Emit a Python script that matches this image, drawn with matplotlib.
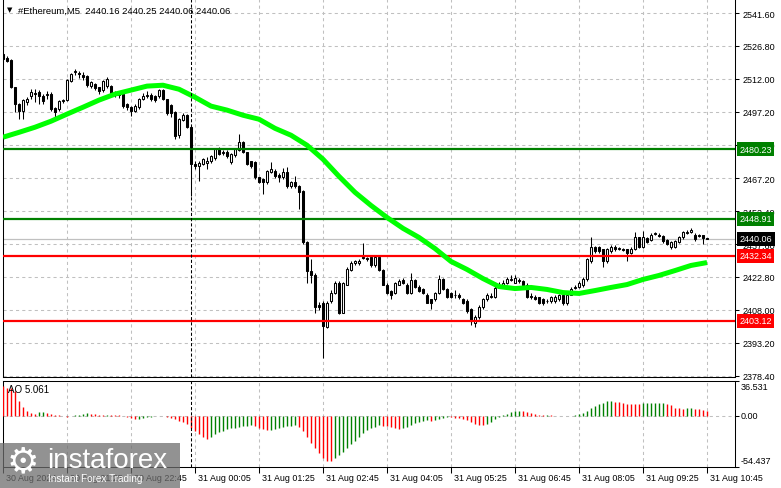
import numpy as np
import matplotlib
matplotlib.use("Agg")
import matplotlib.pyplot as plt
from matplotlib.patches import Rectangle

plt.rcParams['font.family'] = ['Liberation Sans', 'DejaVu Sans']

W, H = 781, 489

# ---- M5 candles (bar 0 = 30 Aug 20:05) ----
opens = [2523.1, 2521.3, 2520.4, 2508.2, 2500.6, 2497.4, 2501.5, 2504.2, 2505.5, 2506.0,
         2504.2, 2504.6, 2505.1, 2498.8, 2498.3, 2501.9, 2502.4, 2511.0, 2515.0, 2514.5,
         2513.6, 2513.2, 2508.7, 2509.6, 2508.2, 2506.9, 2508.7, 2508.7, 2505.5, 2505.1,
         2505.1, 2500.6, 2499.2, 2497.4, 2499.2, 2503.1, 2504.2, 2504.6, 2504.2, 2504.2,
         2506.9, 2502.8, 2500.0, 2497.0, 2486.6, 2493.4, 2495.6, 2490.2, 2473.8, 2472.6,
         2473.5, 2474.3, 2474.8, 2476.2, 2480.3, 2478.5, 2479.0, 2474.4, 2477.6, 2479.8,
         2483.4, 2478.9, 2474.8, 2474.4, 2467.7, 2466.8, 2465.4, 2469.9, 2470.4, 2468.6,
         2467.7, 2469.9, 2463.6, 2465.4, 2463.6, 2461.4, 2438.4, 2425.3, 2423.9, 2410.4,
         2411.3, 2400.5, 2411.8, 2415.8, 2420.3, 2406.8, 2419.4, 2426.1, 2428.9, 2428.9,
         2431.6, 2431.2, 2431.6, 2428.0, 2431.6, 2426.1, 2419.4, 2416.3, 2415.8, 2419.4,
         2421.3, 2419.4, 2415.8, 2421.6, 2418.4, 2417.2, 2414.9, 2412.7, 2412.7, 2415.4,
         2422.1, 2417.6, 2415.4, 2414.5, 2414.9, 2412.7, 2412.2, 2408.2, 2402.3, 2404.6,
         2409.1, 2412.7, 2414.0, 2414.0, 2418.5, 2418.5, 2420.3, 2421.6, 2420.3, 2421.6,
         2420.8, 2419.4, 2414.4, 2414.0, 2413.6, 2412.7, 2412.2, 2411.8, 2411.8, 2412.7,
         2414.5, 2410.9, 2414.9, 2417.8, 2418.5, 2419.0, 2421.7, 2429.8, 2436.1, 2436.1,
         2435.2, 2429.8, 2434.3, 2436.5, 2435.4, 2435.3, 2435.2, 2433.8, 2435.2, 2440.6,
         2436.5, 2440.2, 2439.3, 2442.2, 2441.9, 2441.1, 2439.3, 2436.1, 2436.5, 2438.4,
         2440.6, 2442.7, 2442.9, 2441.9, 2441.5, 2441.5, 2440.16]
highs = [2523.6, 2522.2, 2520.9, 2508.4, 2501.0, 2503.0, 2504.0, 2507.3, 2507.3, 2507.0,
         2505.0, 2506.5, 2506.0, 2499.5, 2502.5, 2503.0, 2512.0, 2514.5, 2516.5, 2515.5,
         2515.0, 2513.5, 2511.0, 2510.0, 2508.5, 2511.5, 2513.0, 2509.0, 2506.5, 2505.5,
         2505.5, 2501.0, 2499.7, 2500.5, 2503.5, 2505.5, 2506.5, 2505.5, 2504.6, 2507.3,
         2507.5, 2503.0, 2500.5, 2497.5, 2494.5, 2496.5, 2496.0, 2490.7, 2474.8, 2475.0,
         2476.5, 2476.6, 2477.8, 2481.0, 2481.5, 2480.0, 2480.0, 2478.5, 2481.0, 2487.0,
         2484.0, 2479.2, 2475.0, 2474.8, 2468.0, 2467.5, 2471.0, 2474.4, 2471.5, 2469.5,
         2472.0, 2472.5, 2466.0, 2468.1, 2464.0, 2461.8, 2439.0, 2430.7, 2424.5, 2411.5,
         2412.0, 2412.0, 2417.0, 2421.0, 2421.0, 2420.5, 2427.5, 2430.0, 2430.5, 2431.0,
         2437.9, 2431.8, 2432.0, 2432.0, 2432.0, 2426.5, 2420.0, 2417.0, 2420.5, 2422.0,
         2422.5, 2420.0, 2424.8, 2422.0, 2419.0, 2418.0, 2415.5, 2413.0, 2416.0, 2423.5,
         2422.5, 2418.0, 2416.0, 2417.0, 2415.5, 2413.5, 2413.0, 2409.0, 2405.5, 2410.0,
         2413.5, 2415.5, 2415.5, 2419.0, 2420.5, 2421.5, 2423.0, 2423.5, 2423.5, 2422.5,
         2421.5, 2420.0, 2415.5, 2414.5, 2414.0, 2413.2, 2413.0, 2414.2, 2414.6, 2415.2,
         2415.0, 2415.4, 2418.2, 2419.0, 2421.2, 2422.8, 2431.5, 2440.6, 2436.6, 2436.8,
         2435.6, 2435.8, 2437.2, 2437.0, 2436.4, 2436.0, 2435.6, 2436.2, 2442.9, 2441.0,
         2443.3, 2440.7, 2442.6, 2443.2, 2442.6, 2441.6, 2439.8, 2438.9, 2439.3, 2441.1,
         2443.4, 2443.8, 2444.7, 2442.4, 2442.2, 2441.9, 2440.25]
lows = [2519.5, 2519.5, 2507.8, 2497.0, 2493.8, 2493.8, 2500.0, 2503.0, 2501.5, 2500.6,
        2500.5, 2503.0, 2497.5, 2493.8, 2497.5, 2501.0, 2502.0, 2510.5, 2513.5, 2512.5,
        2511.5, 2508.5, 2508.0, 2507.0, 2505.1, 2506.0, 2508.0, 2504.5, 2504.0, 2503.5,
        2499.0, 2498.0, 2495.2, 2497.0, 2498.5, 2502.5, 2503.5, 2502.0, 2501.5, 2503.5,
        2502.5, 2495.5, 2495.0, 2484.8, 2485.5, 2493.0, 2489.8, 2459.1, 2471.3, 2465.9,
        2473.0, 2471.3, 2474.0, 2475.5, 2477.5, 2477.5, 2476.5, 2473.5, 2477.0, 2479.5,
        2478.5, 2473.0, 2472.0, 2467.0, 2465.0, 2460.0, 2464.8, 2469.5, 2467.5, 2465.4,
        2467.0, 2463.0, 2463.0, 2463.0, 2453.2, 2437.5, 2420.3, 2420.3, 2406.4, 2408.0,
        2386.5, 2400.0, 2411.0, 2415.0, 2406.0, 2406.5, 2419.0, 2425.5, 2428.4, 2428.4,
        2430.7, 2430.0, 2427.5, 2427.5, 2425.5, 2419.0, 2415.0, 2412.7, 2415.3, 2419.0,
        2419.5, 2415.0, 2415.3, 2418.0, 2416.0, 2415.0, 2411.0, 2408.2, 2412.0, 2415.0,
        2417.0, 2413.5, 2413.5, 2413.5, 2413.0, 2410.5, 2406.5, 2401.4, 2400.5, 2404.0,
        2408.5, 2412.0, 2413.5, 2413.5, 2418.0, 2418.0, 2419.8, 2420.8, 2420.0, 2420.0,
        2419.0, 2413.5, 2413.0, 2412.5, 2410.8, 2410.4, 2410.9, 2411.3, 2411.3, 2412.2,
        2410.4, 2410.4, 2414.5, 2417.2, 2418.0, 2418.5, 2421.2, 2429.3, 2433.8, 2433.6,
        2427.5, 2429.3, 2433.8, 2434.7, 2434.8, 2434.4, 2429.8, 2433.3, 2434.8, 2436.0,
        2436.0, 2437.9, 2438.8, 2441.6, 2440.6, 2438.3, 2437.0, 2435.6, 2436.0, 2437.9,
        2440.1, 2442.1, 2442.4, 2439.2, 2440.6, 2437.5, 2440.06]
closes = [2520.9, 2520.0, 2508.2, 2500.6, 2497.4, 2502.4, 2502.8, 2506.0, 2505.1, 2504.2,
          2502.0, 2505.1, 2498.3, 2497.0, 2501.9, 2502.4, 2511.4, 2514.1, 2515.3, 2514.1,
          2512.8, 2509.1, 2510.5, 2507.8, 2506.4, 2510.9, 2511.8, 2505.1, 2505.1, 2504.6,
          2499.7, 2499.2, 2497.4, 2499.7, 2502.8, 2504.2, 2504.6, 2502.8, 2502.4, 2506.9,
          2502.8, 2496.5, 2496.5, 2486.1, 2493.8, 2495.6, 2490.2, 2473.5, 2472.6, 2474.3,
          2475.8, 2474.8, 2477.1, 2480.3, 2478.0, 2478.9, 2477.1, 2478.0, 2480.3, 2483.4,
          2478.9, 2473.5, 2472.6, 2467.7, 2465.4, 2465.4, 2470.4, 2471.3, 2468.1, 2467.7,
          2469.9, 2463.6, 2465.4, 2463.6, 2460.9, 2438.4, 2425.3, 2423.9, 2409.5, 2409.5,
          2400.9, 2411.3, 2415.8, 2420.0, 2406.8, 2419.9, 2426.6, 2429.3, 2429.8, 2429.8,
          2431.2, 2430.7, 2428.0, 2431.6, 2426.1, 2419.4, 2415.8, 2414.9, 2419.9, 2420.8,
          2420.3, 2415.8, 2421.6, 2418.4, 2416.6, 2415.8, 2411.3, 2411.3, 2415.4, 2422.1,
          2417.6, 2414.0, 2414.0, 2414.9, 2414.0, 2411.3, 2407.3, 2403.2, 2404.6, 2409.1,
          2412.7, 2414.5, 2414.4, 2418.0, 2419.4, 2420.3, 2422.1, 2421.8, 2422.5, 2420.8,
          2419.4, 2414.0, 2413.6, 2413.1, 2411.3, 2411.3, 2411.8, 2413.6, 2414.0, 2414.5,
          2410.9, 2414.9, 2417.6, 2418.1, 2420.3, 2422.1, 2430.7, 2436.1, 2434.3, 2434.3,
          2429.8, 2435.2, 2436.5, 2435.2, 2435.7, 2435.0, 2433.8, 2435.6, 2440.6, 2436.5,
          2440.6, 2438.4, 2441.9, 2442.5, 2441.1, 2438.8, 2437.5, 2438.4, 2438.8, 2440.6,
          2442.9, 2443.0, 2443.8, 2439.7, 2441.1, 2440.2, 2440.06]

# moving average (green line), read every 4th bar
ma_bars = list(range(0, 177, 4))
ma_vals = [2485.7, 2487.9, 2490.2, 2492.9, 2496.1, 2499.2, 2502.4, 2505.1, 2506.9, 2508.7,
           2509.1, 2507.3, 2503.7, 2499.7, 2497.9, 2495.6, 2493.8, 2489.7, 2486.6, 2482.1,
           2475.8, 2468.1, 2460.9, 2455.0, 2449.6, 2444.7, 2440.6, 2435.6, 2429.8, 2426.2,
           2422.1, 2418.5, 2417.6, 2418.1, 2417.2, 2415.8, 2415.4, 2416.7, 2418.1, 2419.4,
           2421.7, 2423.5, 2425.7, 2428.0, 2429.3]

# Awesome Oscillator histogram
ao_vals = [32.0, 30.0, 29.2, 26.0, 15.5, 9.4, 5.0, 3.2, 2.2, 3.5,
           3.9, 2.8, 1.8, 0.9, 0.3, -0.4, -1.2, -0.6, 0.2, 1.0,
           2.0, 2.6, 1.9, 1.2, 0.8, 0.6, 0.7, 0.5, 0.4, 0.2,
           -0.3, -1.0, -2.4, -3.6, -3.2, -2.6, -1.8, -1.0, -0.6, -0.2,
           -0.5, -1.2, -2.6, -4.0, -5.5, -7.0, -9.0, -12.8, -16.5, -20.0,
           -22.8, -24.6, -22.6, -20.2, -18.0, -16.4, -14.8, -13.6, -12.8, -12.0,
           -11.3, -10.8, -10.5, -11.6, -13.2, -14.6, -15.4, -15.0, -14.2, -13.2,
           -12.2, -11.4, -10.8, -10.4, -12.5, -16.8, -22.5, -28.8, -34.6, -40.5,
           -45.0, -48.2, -49.0, -45.6, -42.0, -38.4, -34.2, -30.5, -27.0, -22.8,
           -19.0, -15.8, -13.6, -11.8, -10.0, -10.6, -11.6, -12.6, -13.4, -13.9,
           -13.5, -11.9, -10.1, -8.3, -6.6, -5.6, -4.8, -5.5, -4.6, -3.2,
           -2.2, -1.4, -1.8, -2.2, -2.8, -3.6, -4.6, -6.6, -8.6, -9.8,
           -10.2, -8.8, -6.4, -3.8, -1.4, 0.6, 2.2, 3.8, 5.0, 5.4,
           4.8, 3.6, 2.4, 1.4, 0.8, 0.5, 0.6, 0.3, -0.2, -0.5,
           -0.3, 0.1, -0.1, 0.3, 1.5, 2.9, 4.8, 7.6, 10.2, 12.3,
           14.0, 15.2, 15.8, 15.0, 14.1, 13.4, 12.8, 12.6, 12.3, 12.1,
           13.0, 13.3, 13.6, 13.8, 13.9, 14.0, 12.9, 11.2, 8.6, 7.9,
           7.4, 7.8, 8.1, 7.4, 6.8, 6.1, 5.061]

green_levels = [2480.23, 2448.91]
red_levels = [2432.34, 2403.12]
last_price = 2440.06
price_ticks = [2541.60, 2526.80, 2512.00, 2497.20, 2482.40, 2467.20,
               2452.40, 2437.60, 2422.80, 2408.00, 2393.20, 2378.40]
time_ticks = [0, 16, 32, 48, 64, 80, 96, 112, 128, 144, 160, 176]
time_labels = ["30 Aug 2024", "30 Aug 21:25", "30 Aug 22:45", "31 Aug 00:05",
               "31 Aug 01:25", "31 Aug 02:45", "31 Aug 04:05", "31 Aug 05:25",
               "31 Aug 06:45", "31 Aug 08:05", "31 Aug 09:25", "31 Aug 10:45"]
day_sep = 47
ao_top, ao_bottom = 36.531, -54.437
header = "#Ethereum,M5  2440.16 2440.25 2440.06 2440.06"


def box(l, t, r, b):
    return [l / W, 1 - b / H, (r - l) / W, (b - t) / H]


fig = plt.figure(figsize=(W / 100, H / 100), dpi=100)
ax = fig.add_axes(box(2.5, 0, 735, 378))
ax2 = fig.add_axes(box(2.5, 382, 735, 467.5))

GRID = '#C0C0C0'
dash = (0, (3, 3))

for a in (ax, ax2):
    a.set_xlim(-0.125, 183)
    for s in a.spines.values():
        s.set_linewidth(0.75)
        s.set_color('black')
    a.yaxis.tick_right()
    a.set_xticks(time_ticks)
    a.grid(True, axis='x', color=GRID, linestyle=dash, linewidth=0.75)
    a.set_axisbelow(True)
    a.axvline(day_sep, color='black', linestyle=(0, (3, 2)), linewidth=0.75, zorder=6)

ax.spines['top'].set_visible(False)
ax.set_ylim(2377.8, 2547.9)
ax.set_yticks(price_ticks)
ax.set_yticklabels(['%.2f' % v for v in price_ticks])
ax.grid(True, axis='y', color=GRID, linestyle=dash, linewidth=0.75)
ax.tick_params(axis='y', length=3, width=0.75, pad=2.5, labelsize=6.5)
ax.tick_params(axis='x', length=0, labelbottom=False)

# candles
x = np.arange(len(closes))
o = np.array(opens); c = np.array(closes)
h = np.array(highs); l = np.array(lows)
up = c >= o
ax.vlines(x, l, h, color='black', linewidth=0.75, zorder=2)
body = np.maximum(np.abs(c - o), 0.08)
ax.bar(x, body, bottom=np.minimum(o, c), width=0.55,
       color=np.where(up, 'white', 'black'), edgecolor='black', linewidth=0.75, zorder=3)

# levels
ax.axhline(last_price, color=GRID, linewidth=0.9, zorder=1.8)
for v in green_levels:
    ax.axhline(v, color='#008000', linewidth=1.6, zorder=4)
for v in red_levels:
    ax.axhline(v, color='#FF0000', linewidth=1.6, zorder=4)

ax.plot(ma_bars, ma_vals, color='#00FF00', linewidth=3.6, solid_capstyle='butt', zorder=5)

ytr = ax.get_yaxis_transform()
for v, col in [(green_levels[0], '#008000'), (green_levels[1], '#008000'),
               (last_price, 'black'), (red_levels[0], '#FF0000'), (red_levels[1], '#FF0000')]:
    ax.text(1.0061, v, '%.2f' % v, transform=ytr, ha='left', va='center', fontsize=6.5,
            color='white', clip_on=False, zorder=10,
            bbox=dict(boxstyle='square,pad=0.28', fc=col, ec='none'))

# AO panel
ax2.set_ylim(ao_bottom, 37.0)
ao = np.array(ao_vals)
cols = ['#FF0000'] + ['#008000' if ao[i] > ao[i - 1] else '#FF0000' for i in range(1, len(ao))]
ax2.vlines(x, 0, ao, colors=cols, linewidth=1.0, zorder=3)
ax2.axhline(0, color=GRID, linestyle=dash, linewidth=0.75, zorder=1)
ax2.set_yticks([ao_bottom, 0, ao_top])
ax2.set_yticklabels([])
ax2.tick_params(axis='y', length=3, width=0.75)
ax2.tick_params(axis='x', length=4, width=0.75, direction='out', labelbottom=False)

for frac, txt in [(0.930, '%.3f' % ao_top), (0.591, '0.00'), (0.076, '%.3f' % ao_bottom)]:
    ax2.text((741 - 2.5) / 732.5, frac, txt, transform=ax2.transAxes, ha='left', va='center',
             fontsize=6.5, clip_on=False)
ax2.text(0.0075, 0.906, 'AO 5.061', transform=ax2.transAxes, ha='left', va='center', fontsize=7)

xtr = ax2.get_xaxis_transform()
for t, lab in zip(time_ticks, time_labels):
    ax2.text(t + 0.75, -0.123, lab, transform=xtr, ha='left', va='center', fontsize=6.4,
             clip_on=False)

# header
fig.text(7 / W, 1 - 10 / H, '\u25BC', fontsize=5, family='DejaVu Sans', va='center')
fig.text(18 / W, 1 - 11 / H, header, fontsize=6.8, va='center')

# watermark
fig.add_artist(Rectangle((0, 0), 180 / W, 45 / H, transform=fig.transFigure,
                         facecolor='#6e6e6e', alpha=0.75, edgecolor='none', zorder=20))
fig.text(23 / W, 1 - 462 / H, '\u2699', fontsize=26, family='DejaVu Sans', color='white',
         ha='center', va='center', zorder=21)
fig.text(47 / W, 1 - 468 / H, 'instaforex', fontsize=20, color='white', va='baseline', zorder=21)
fig.text(48 / W, 1 - 482 / H, 'Instant Forex Trading', fontsize=7.2, color='white',
         va='baseline', zorder=21)

fig.savefig('out.png', dpi=100)
